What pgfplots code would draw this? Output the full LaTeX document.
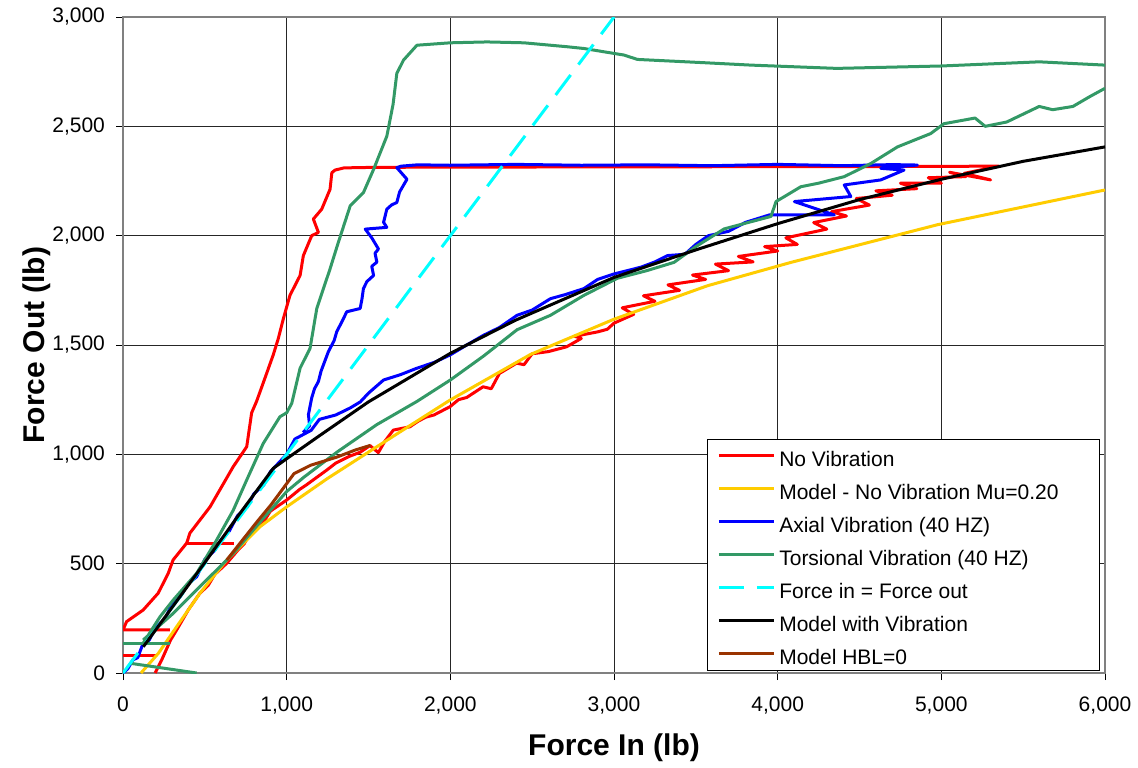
\documentclass[border=0pt]{standalone}
\usepackage{pgfplots}
\pgfplotsset{compat=1.18}
\usepackage{fontspec}
\setmainfont{Liberation Sans}

\definecolor{novib}{RGB}{255,0,0}
\definecolor{modelnv}{RGB}{255,204,0}
\definecolor{axial}{RGB}{0,0,255}
\definecolor{tors}{RGB}{51,153,102}
\definecolor{ident}{RGB}{0,255,255}
\definecolor{hbl}{RGB}{153,51,0}

\begin{document}
\begin{tikzpicture}
\path[use as bounding box] (-61.5pt,-47pt) rectangle (507.5pt,336.5pt);
\begin{axis}[
  at={(0pt,0pt)}, anchor=south west,
  scale only axis, width=491pt, height=328pt,
  xmin=0, xmax=6000, ymin=0, ymax=3000,
  xtick={0,1000,...,6000}, ytick={0,500,...,3000},
  /pgf/number format/.cd, 1000 sep={,}, assume math mode=true, /pgfplots/.cd,
  tick label style={font=\fontsize{10.5}{12.5}\selectfont},
  xticklabel style={yshift=-5pt},
  yticklabel style={xshift=-2pt},
  tick align=outside, major tick length=3.5pt,
  tick style={black, line width=0.5pt},
  xtick pos=bottom, ytick pos=left,
  axis line style={gray, line width=0.6pt},
  grid=major, major grid style={black!85, line width=0.5pt},
  xlabel={\bfseries Force In (lb)},
  ylabel={\bfseries Force Out (lb)},
  label style={font=\fontsize{15}{18}\selectfont},
  xlabel style={yshift=-3pt},
  ylabel style={yshift=-6pt},
  every axis plot/.append style={line width=1.5pt, line join=round},
  legend cell align=left,
  legend image code/.code={\draw[#1] (0pt,0pt) -- (27.5pt,0pt);},
  legend style={at={(rel axis cs:0.995,0.003)}, anchor=south east,
    draw=black, line width=0.6pt, fill=white,
    font=\fontsize{10.5}{12.6}\selectfont,
    inner xsep=5pt, inner ysep=0pt, row sep=0pt,
    nodes={text height=10.5pt, text depth=0pt, inner ysep=3pt, inner xsep=2pt}},
]

% No vibration: loading, hold, unloading
\addplot[novib] coordinates {
 (196,0)(236,59)(290,150)(328,197)(400,290)(470,365)(520,400)(560,450)
 (634,502)(700,560)(740,590)(776,640)(850,680)(900,740)(1000,791)(1080,840)
 (1120,860)(1245,928)(1300,960)(1380,990)(1450,1010)(1509,1040)(1560,1008)
 (1600,1060)(1652,1111)(1753,1126)(1800,1150)(1850,1170)(1900,1180)(1998,1218)
 (2050,1250)(2100,1260)(2200,1309)(2250,1300)(2300,1370)(2405,1417)(2450,1410)
 (2500,1460)(2600,1470)(2711,1492)(2800,1530)(2760,1540)(2900,1560)(2959,1572)
 (3000,1600)(3120,1640)(3050,1670)(3250,1700)(3180,1725)(3400,1750)(3330,1775)
 (3560,1800)(3480,1820)(3700,1840)(3620,1870)(3850,1880)(3760,1905)(4000,1930)
 (3920,1950)(4120,1960)(4050,1990)(4300,2030)(4220,2060)(4420,2090)(4330,2110)
 (4560,2140)(4480,2170)(4700,2185)(4600,2205)(4850,2215)(4750,2240)(5000,2240)
 (4920,2265)(5150,2270)(5050,2290)(5301,2255)(5140,2285)(5352,2318)
 (5000,2317)(4500,2316)(4000,2316)(3500,2315)(3000,2315)(2500,2314)(2000,2314)
 (1500,2312)(1350,2310)(1296,2300)(1276,2288)(1265,2212)(1214,2121)(1163,2076)
 (1194,2015)(1153,2000)(1102,1909)(1082,1818)(1020,1727)(980,1621)(949,1530)
 (918,1455)(867,1348)(816,1242)(786,1190)(756,1035)(673,943)(532,760)(409,640)
 (389,594)(306,517)(277,457)(215,365)(123,288)(22,235)(0,197)(287,197)
};
\addlegendentry{No Vibration}
\addplot[novib, forget plot] coordinates {(389,594)(680,594)};
\addplot[novib, forget plot] coordinates {(0,82)(205,82)};

% Friction model without vibration
\addplot[modelnv] coordinates {
 (110,0)(216,90)(328,212)(470,365)(634,517)(837,669)(1000,760)(1250,890)
 (1489,1005)(1750,1130)(1998,1248)(2490,1457)(3000,1618)(3571,1771)
 (4082,1878)(4976,2050)(6000,2209)
};
\addlegendentry{Model - No Vibration Mu=0.20\kern13.5pt}

% Axial vibration at 40 Hz
\addplot[axial] coordinates {
 (0,0)(30,20)(60,60)(90,70)(120,130)(160,150)(200,210)(260,250)(300,320)
 (350,350)(400,410)(450,440)(500,520)(560,560)(600,610)(650,650)(700,720)
 (760,760)(800,820)(860,860)(900,920)(950,960)(1000,1000)(1050,1070)
 (1100,1090)(1150,1110)(1200,1160)(1300,1180)(1388,1212)(1450,1240)
 (1500,1280)(1592,1340)(1694,1364)(1796,1394)(1900,1420)(2000,1455)
 (2100,1500)(2204,1545)(2300,1580)(2408,1636)(2500,1660)(2612,1712)
 (2700,1730)(2816,1758)(2900,1800)(3000,1825)(3165,1856)(3250,1880)
 (3327,1909)(3433,1915)(3500,1960)(3577,2000)(3700,2020)(3804,2061)
 (3950,2095)(4346,2095)(4102,2156)(4447,2179)(4407,2232)(4630,2255)
 (4772,2300)(4630,2308)(4854,2323)
 (4700,2325)(4400,2320)(4000,2326)(3600,2320)(3200,2324)(2800,2322)
 (2400,2326)(2000,2322)(1800,2324)(1700,2318)(1673,2311)(1735,2258)
 (1690,2200)(1673,2152)(1640,2140)(1612,2121)(1592,2061)(1612,2038)
 (1480,2030)(1520,1990)(1561,1939)(1540,1920)(1551,1879)(1520,1860)
 (1531,1818)(1490,1790)(1469,1758)(1460,1710)(1449,1667)(1367,1652)
 (1340,1610)(1306,1561)(1290,1520)(1255,1470)(1230,1420)(1210,1380)
 (1194,1333)(1170,1300)(1153,1258)(1133,1182)(1140,1130)(1100,1100)
};
\addlegendentry{Axial Vibration (40 HZ)}

% Torsional vibration at 40 Hz
\addplot[tors] coordinates {
 (123,136)(226,257)(307,334)(450,456)(572,608)(674,745)(756,883)(857,1050)
 (959,1172)(1000,1190)(1031,1233)(1082,1394)(1143,1485)(1184,1667)
 (1265,1848)(1316,1970)(1388,2136)(1469,2197)(1531,2303)(1612,2455)
 (1650,2600)(1673,2742)(1714,2803)(1796,2871)(2000,2882)(2224,2886)
 (2449,2882)(2714,2864)(2816,2856)(3061,2826)(3143,2806)(3551,2791)
 (3837,2780)(4361,2765)(5000,2776)(5598,2795)(6000,2780)
};
\addlegendentry{Torsional Vibration (40 HZ)}
\addplot[tors, forget plot] coordinates {(0,136)(287,136)};
\addplot[tors, forget plot] coordinates {(40,45)(450,0)};
\addplot[tors, forget plot] coordinates {
 (123,151)(307,273)(470,395)(674,547)(837,690)(1000,830)(1106,896)
 (1309,1011)(1551,1136)(1796,1242)(2000,1340)(2204,1450)(2408,1570)
 (2612,1636)(2816,1727)(3020,1805)(3200,1840)(3367,1878)
 (3500,1950)(3673,2031)(3959,2088)(3990,2156)(4142,2224)(4250,2240)
 (4407,2270)(4569,2330)(4732,2406)(4935,2467)(5016,2512)(5206,2538)
 (5268,2500)(5400,2520)(5598,2591)(5680,2576)(5804,2591)(5907,2636)
 (6000,2674)
};

% Reference line: output equals input
\addplot[ident, dash pattern=on 12.5pt off 6.5pt] coordinates {(0,0)(3000,3000)};
\addlegendentry{Force in = Force out}

% Model including vibration
\addplot[black] coordinates {
 (124,120)(300,300)(500,505)(700,715)(918,936)(1000,980)(1200,1085)
 (1500,1240)(2000,1462)(2400,1614)(3000,1809)(3500,1935)(4000,2055)
 (4500,2165)(5000,2258)(5500,2340)(6000,2406)
};
\addlegendentry{Model with Vibration}

% Model with HBL = 0
\addplot[hbl] coordinates {
 (634,517)(817,690)(902,767)(1000,866)(1045,912)(1146,950)(1309,988)
 (1420,1020)(1512,1041)
};
\addlegendentry{Model HBL=0}

\end{axis}
\end{tikzpicture}
\end{document}
